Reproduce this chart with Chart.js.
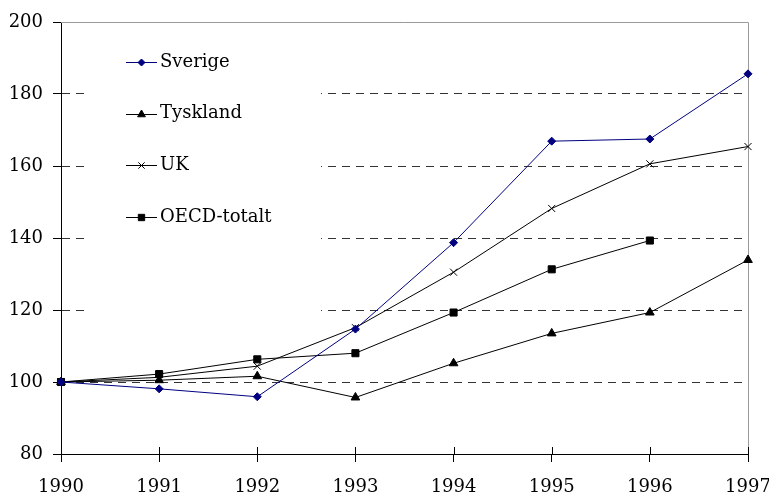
<!DOCTYPE html>
<html>
<head>
<meta charset="utf-8">
<script src="https://cdn.jsdelivr.net/npm/chart.js@4"></script>
<style>
  body { margin: 0; background: #fff; }
  #wrap { width: 769px; height: 493px; position: relative; }
</style>
</head>
<body>
<div id="wrap"><canvas id="indexChart"></canvas></div>
<script>
// years on the x axis
const years = ['1990', '1991', '1992', '1993', '1994', '1995', '1996', '1997'];

// index values, 1990 = 100
const sverige = [100, 98.1, 95.9, 114.7, 138.7, 166.9, 167.5, 185.6];
const tyskland = [100, 100.5, 101.6, 95.7, 105.2, 113.5, 119.3, 133.9];
const uk = [100, 101.3, 104.4, 115.1, 130.5, 148.2, 160.6, 165.4];
const oecd = [100, 102.2, 106.3, 108.0, 119.3, 131.3, 139.3, null];

const yTicks = [80, 100, 120, 140, 160, 180, 200];

Chart.defaults.font.family = "'DejaVu Serif', serif";
Chart.defaults.font.size = 18;
Chart.defaults.color = '#000';

// legend box sits inside the plot and hides the grid behind it
const insideLegend = {
    id: 'insideLegend',
    beforeDatasetsDraw(chart) {
        const ctx = chart.ctx;
        const area = chart.chartArea;
        ctx.save();
        ctx.fillStyle = '#fff';
        ctx.fillRect(84, 27, 237, 290);
        // top and right frame
        ctx.strokeStyle = '#9a9a9a';
        ctx.lineWidth = 1;
        ctx.beginPath();
        ctx.moveTo(area.left, area.top + 0.5);
        ctx.lineTo(area.right + 0.5, area.top + 0.5);
        ctx.lineTo(area.right + 0.5, area.bottom);
        ctx.stroke();
        ctx.restore();
    },
    afterDatasetsDraw(chart) {
        const ctx = chart.ctx;
        const xs = chart.scales.x;
        const area = chart.chartArea;
        ctx.save();
        // x tick marks also reach up into the plot
        ctx.strokeStyle = '#000';
        ctx.lineWidth = 1;
        years.forEach((y, i) => {
            const px = Math.round(xs.getPixelForValue(i)) + 0.5;
            ctx.beginPath();
            ctx.moveTo(px, area.bottom - 7);
            ctx.lineTo(px, area.bottom);
            ctx.stroke();
        });

        chart.data.datasets.forEach((ds, i) => {
            const cy = 62 + i * 51.7;
            ctx.strokeStyle = ds.borderColor;
            ctx.fillStyle = ds.pointBackgroundColor;
            ctx.lineWidth = 1;
            ctx.beginPath();
            ctx.moveTo(126, Math.round(cy) + 0.5);
            ctx.lineTo(157, Math.round(cy) + 0.5);
            ctx.stroke();
            Chart.helpers.drawPoint(ctx, {
                pointStyle: ds.pointStyle,
                radius: ds.pointRadius - 0.5,
                rotation: 0,
                borderWidth: 1
            }, 141.5, Math.round(cy) + 0.5);
            ctx.fillStyle = '#000';
            ctx.font = "18px 'DejaVu Serif'";
            ctx.textBaseline = 'middle';
            ctx.textAlign = 'left';
            ctx.fillText(ds.label, 160, cy);
        });
        ctx.restore();
    }
};

function series(label, data, color, style, radius) {
    return {
        label: label,
        data: data,
        borderColor: color,
        backgroundColor: color,
        pointBackgroundColor: color,
        pointBorderColor: color,
        borderWidth: 1,
        pointStyle: style,
        pointRadius: radius,
        pointBorderWidth: 1,
        tension: 0,
        clip: false,
        spanGaps: false
    };
}

new Chart(document.getElementById('indexChart'), {
    type: 'line',
    data: {
        labels: years,
        datasets: [
            series('Sverige', sverige, '#000080', 'rectRot', 4),
            series('Tyskland', tyskland, '#000', 'triangle', 5),
            series('UK', uk, '#000', 'crossRot', 5),
            series('OECD-totalt', oecd, '#000', 'rect', 5)
        ]
    },
    options: {
        responsive: true,
        maintainAspectRatio: false,
        animation: false,
        layout: { padding: { top: 22, right: 21, left: 0, bottom: 0 } },
        plugins: {
            legend: { display: false },
            tooltip: { enabled: false }
        },
        scales: {
            x: {
                type: 'category',
                offset: false,
                border: { display: true, color: '#000', width: 1 },
                grid: { drawOnChartArea: false, drawTicks: true, tickLength: 8, color: '#000' },
                ticks: { padding: 15, maxRotation: 0, autoSkip: false },
                afterFit(scale) {
                    scale.height = 39;
                    scale.paddingLeft = 0;
                    scale.paddingRight = 0;
                }
            },
            y: {
                min: 80,
                max: 200,
                border: { display: true, color: '#000', width: 1, dash: [8, 6] },
                grid: {
                    drawOnChartArea: true,
                    tickLength: 8,
                    tickColor: '#000',
                    tickBorderDash: [],
                    color: ctx => (ctx.tick && (ctx.tick.value === 80 || ctx.tick.value === 200)) ? 'rgba(0,0,0,0)' : '#333'
                },
                afterBuildTicks(scale) { scale.ticks = yTicks.map(v => ({ value: v })); },
                ticks: { padding: 10 },
                afterFit(scale) {
                    scale.width = 61;
                    scale.paddingTop = 0;
                    scale.paddingBottom = 0;
                }
            }
        }
    },
    plugins: [insideLegend]
});
</script>
</body>
</html>
